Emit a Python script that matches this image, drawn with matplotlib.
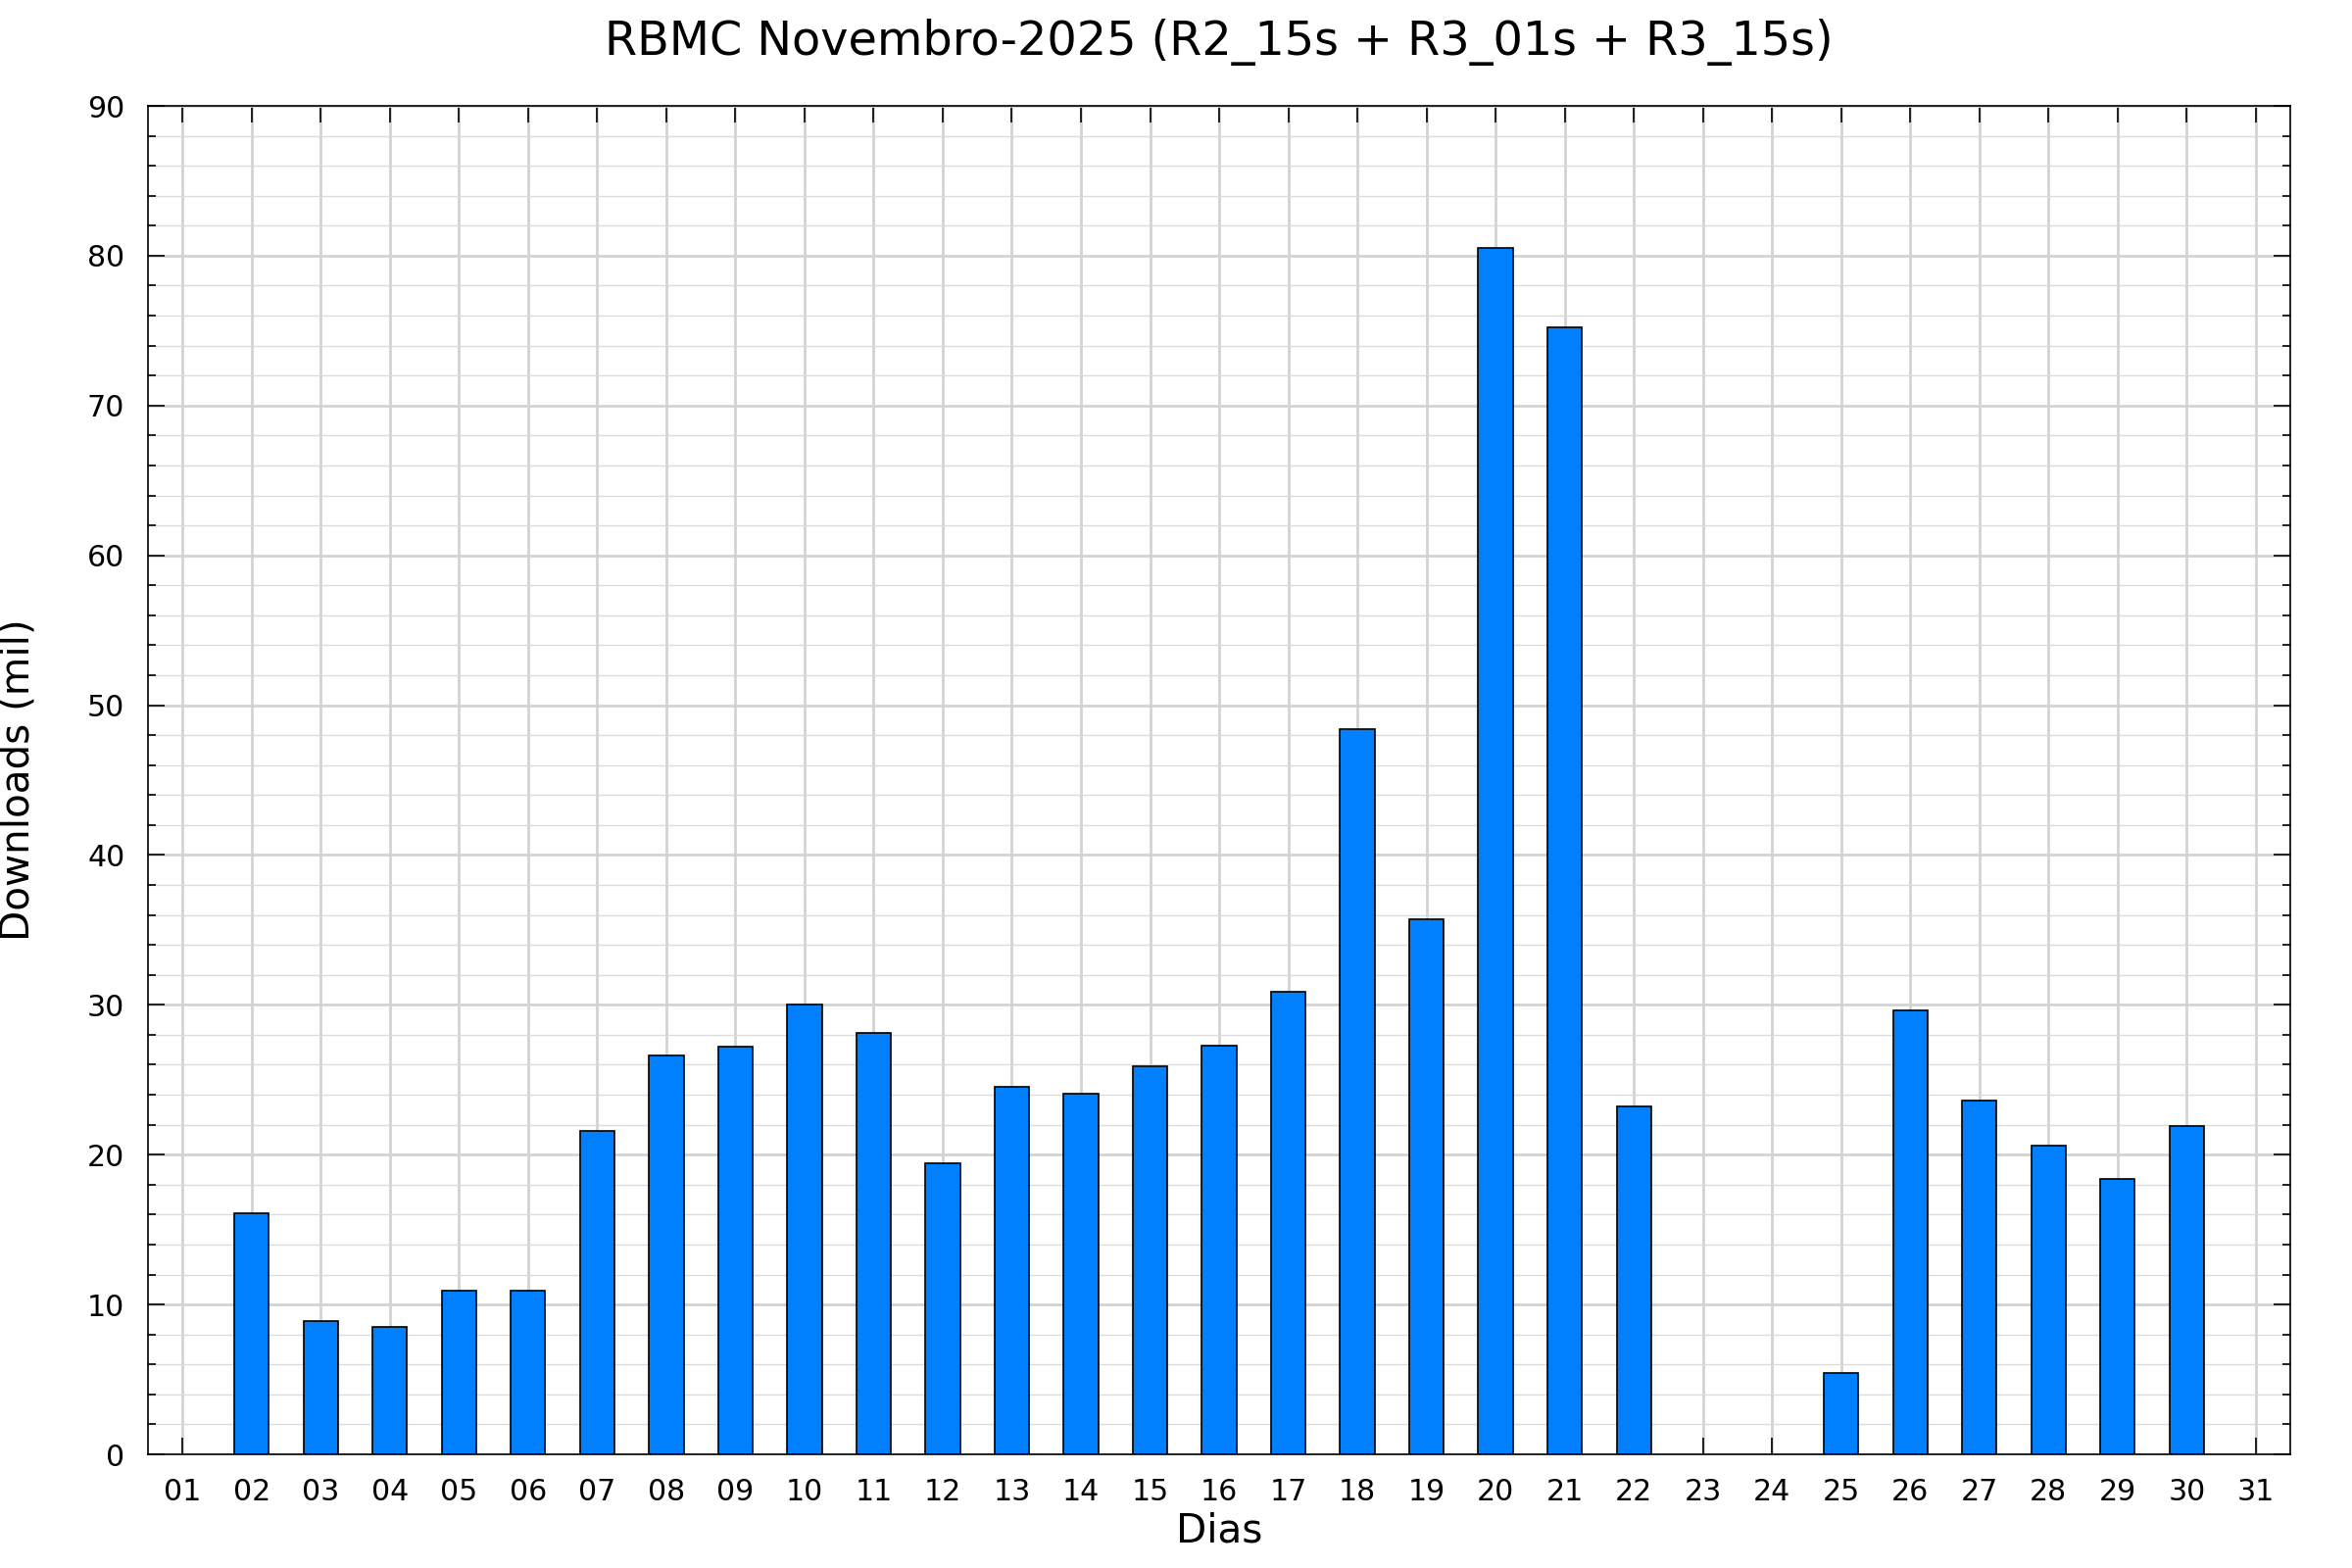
import numpy as np
import matplotlib
matplotlib.use('Agg')
import matplotlib.pyplot as plt
from matplotlib.ticker import MultipleLocator

days = np.arange(1, 32)
day_labels = ['%02d' % d for d in days]
# downloads (thousands); 0 = no data for that day
downloads = [0, 16.1, 8.9, 8.5, 10.9, 10.9, 21.6, 26.6, 27.2, 30.0,
             28.1, 19.4, 24.5, 24.1, 25.9, 27.3, 30.9, 48.4, 35.7, 80.5,
             75.2, 23.2, 0, 0, 5.4, 29.6, 23.6, 20.6, 18.4, 21.9, 0]

title = 'RBMC Novembro-2025 (R2_15s + R3_01s + R3_15s)'

fig = plt.figure(figsize=(12, 8), dpi=200)
ax = fig.add_axes([0.0629, 0.0725, 0.9738 - 0.0629, 0.9325 - 0.0725])

vals = np.array(downloads, dtype=float)
mask = vals > 0
ax.bar(days[mask], vals[mask], width=0.5, color='#007fff', edgecolor='black',
       linewidth=0.6, zorder=3)

ax.set_xlim(0.5, 31.5)
ax.set_ylim(0, 90)
ax.set_xticks(days)
ax.set_xticklabels(day_labels)
ax.yaxis.set_major_locator(MultipleLocator(10))
ax.yaxis.set_minor_locator(MultipleLocator(2))

ax.grid(True, which='major', axis='both', color='#d3d3d3', linewidth=1.0, zorder=0)
ax.grid(True, which='minor', axis='y', color='#dcdcdc', linewidth=0.5, zorder=0)
ax.set_axisbelow(True)

ax.tick_params(which='major', direction='in', length=6, width=0.6,
               top=True, right=True, labelsize=10.8, pad=8.5)
ax.tick_params(which='minor', direction='in', length=3, width=0.6,
               left=True, right=True)
for s in ax.spines.values():
    s.set_linewidth(0.6)
    s.set_zorder(4)

ax.set_xlabel('Dias', fontsize=14.6, va='center')
ax.xaxis.set_label_coords(0.5, -0.0574)
ax.set_ylabel('Downloads (mil)', fontsize=14.6, va='center')
ax.yaxis.set_label_coords(-0.0608, 0.5)

# title centred over the plot area
fig.text(1244 / 2400, 1 - 43 / 1600, title, fontsize=17.2, ha='center', va='center')

fig.savefig('out.png', dpi=200)
